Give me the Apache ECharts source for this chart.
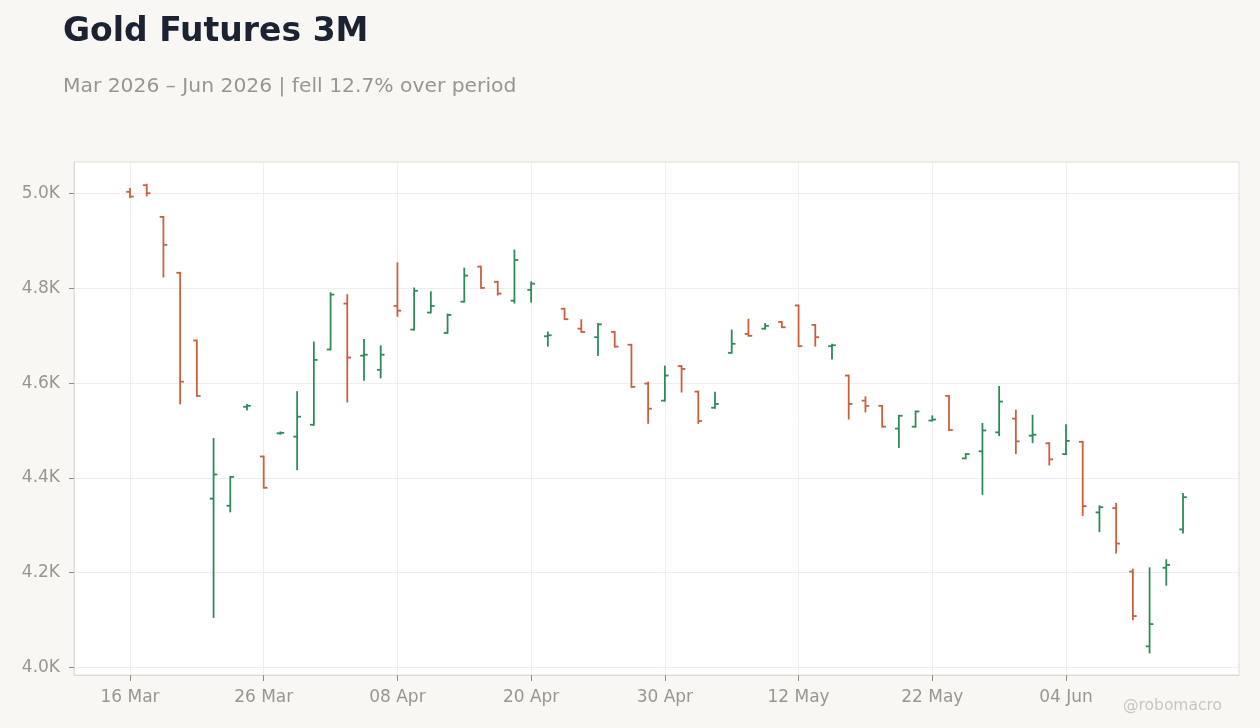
<!DOCTYPE html>
<html>
<head>
<meta charset="utf-8">
<title>Gold Futures 3M</title>
<script src="https://cdn.jsdelivr.net/npm/echarts@6/dist/echarts.min.js"></script>
<style>
  html, body { margin: 0; padding: 0; background: #f8f7f4; }
  #chart { width: 1260px; height: 728px; }
</style>
</head>
<body>
<div id="chart"></div>
<script>
// trading days, 16 Mar 2026 - 15 Jun 2026
var dates = ['16 Mar', '17 Mar', '18 Mar', '19 Mar', '20 Mar', '23 Mar', '24 Mar', '25 Mar', '26 Mar', '27 Mar',
    '30 Mar', '31 Mar', '01 Apr', '02 Apr', '06 Apr', '07 Apr', '08 Apr', '09 Apr', '10 Apr', '13 Apr',
    '14 Apr', '15 Apr', '16 Apr', '17 Apr', '20 Apr', '21 Apr', '22 Apr', '23 Apr', '24 Apr', '27 Apr',
    '28 Apr', '29 Apr', '30 Apr', '01 May', '04 May', '05 May', '06 May', '07 May', '08 May', '11 May',
    '12 May', '13 May', '14 May', '15 May', '18 May', '19 May', '20 May', '21 May', '22 May', '26 May',
    '27 May', '28 May', '29 May', '01 Jun', '02 Jun', '03 Jun', '04 Jun', '05 Jun', '08 Jun', '09 Jun',
    '10 Jun', '11 Jun', '12 Jun', '15 Jun'];

var opens = [5004, 5018, 4951, 4833, 4690, 4356, 4341, 4550, 4445, 4494,
    4487, 4512, 4671, 4768, 4658, 4628, 4763, 4713, 4749, 4706,
    4772, 4846, 4814, 4774, 4797, 4699, 4757, 4715, 4697, 4708,
    4681, 4599, 4563, 4636, 4582, 4548, 4664, 4704, 4715, 4729,
    4764, 4723, 4678, 4616, 4563, 4552, 4504, 4508, 4521, 4573,
    4441, 4456, 4496, 4525, 4489, 4473, 4450, 4476, 4327, 4336,
    4202, 4044, 4210, 4291];

var closes = [4994, 5001, 4892, 4603, 4573, 4407, 4402, 4552, 4379, 4495,
    4529, 4649, 4787, 4654, 4660, 4660, 4753, 4795, 4763, 4744,
    4827, 4801, 4789, 4860, 4810, 4701, 4735, 4708, 4724, 4677,
    4592, 4546, 4616, 4630, 4520, 4556, 4683, 4700, 4721, 4718,
    4678, 4697, 4680, 4556, 4552, 4508, 4531, 4540, 4523, 4501,
    4450, 4500, 4561, 4477, 4491, 4439, 4478, 4340, 4338, 4261,
    4108, 4091, 4216, 4359];

var lows = [4993, 4996, 4825, 4557, 4573, 4106, 4329, 4544, 4379, 4493,
    4418, 4512, 4671, 4561, 4607, 4612, 4742, 4713, 4749, 4706,
    4772, 4801, 4787, 4770, 4772, 4679, 4735, 4708, 4659, 4677,
    4592, 4516, 4563, 4582, 4516, 4548, 4664, 4700, 4715, 4718,
    4678, 4679, 4652, 4525, 4540, 4508, 4465, 4508, 4521, 4501,
    4441, 4366, 4490, 4452, 4475, 4428, 4450, 4321, 4287, 4242,
    4101, 4031, 4174, 4284];

var highs = [5010, 5019, 4951, 4833, 4690, 4482, 4402, 4554, 4445, 4496,
    4581, 4686, 4790, 4786, 4691, 4678, 4853, 4800, 4792, 4745,
    4842, 4846, 4814, 4880, 4813, 4707, 4757, 4733, 4725, 4708,
    4681, 4601, 4635, 4636, 4582, 4580, 4711, 4734, 4725, 4729,
    4764, 4723, 4681, 4616, 4570, 4552, 4531, 4540, 4530, 4573,
    4450, 4514, 4592, 4542, 4531, 4473, 4511, 4476, 4340, 4345,
    4206, 4209, 4226, 4366];

var xTicks = [0, 8, 16, 24, 32, 40, 48, 56];
var yTicks = [4000, 4200, 4400, 4600, 4800, 5000];

var UP = '#2e8b57';
var DOWN = '#c9603e';

var chart = echarts.init(document.getElementById('chart'));

var ohlc = [];
for (var i = 0; i < dates.length; i++) {
    ohlc.push([i, opens[i], closes[i], lows[i], highs[i]]);
}

// open tick left, close tick right, high-low stem
function renderOhlc(params, api) {
    var x = api.value(0);
    var o = api.coord([x, api.value(1)]);
    var c = api.coord([x, api.value(2)]);
    var l = api.coord([x, api.value(3)]);
    var h = api.coord([x, api.value(4)]);
    var color = api.value(2) >= api.value(1) ? UP : DOWN;
    var style = { stroke: color, lineWidth: 1.8 };
    var arm = 3.8;
    return {
        type: 'group',
        children: [
            { type: 'line', shape: { x1: h[0], y1: h[1] - 0.9, x2: l[0], y2: l[1] + 0.9 }, style: style },
            { type: 'line', shape: { x1: o[0] - arm, y1: o[1], x2: o[0], y2: o[1] }, style: style },
            { type: 'line', shape: { x1: c[0], y1: c[1], x2: c[0] + arm, y2: c[1] }, style: style }
        ]
    };
}

var labelColor = '#9a958f';

var option = {
    backgroundColor: '#f8f7f4',
    animation: false,
    title: [
        {
            text: 'Gold Futures 3M',
            left: 63,
            top: 16,
            padding: 0,
            textStyle: { fontFamily: 'DejaVu Sans', fontSize: 33, fontWeight: 'bold', color: '#1b2333' }
        },
        {
            text: 'Mar 2026 \u2013 Jun 2026 | fell 12.7% over period',
            left: 63,
            top: 77,
            padding: 0,
            textStyle: { fontFamily: 'DejaVu Sans', fontSize: 20.3, fontWeight: 'normal', color: '#9a958f' }
        }
    ],
    graphic: [
        {
            type: 'text',
            right: 38,
            bottom: 14,
            style: { text: '@robomacro', fontFamily: 'DejaVu Sans', fontSize: 15.5, fill: '#c9c6c1' }
        }
    ],
    grid: {
        left: 74,
        right: 21,
        top: 162,
        bottom: 53,
        show: true,
        backgroundColor: '#ffffff',
        borderColor: '#e0dcd6',
        borderWidth: 1
    },
    xAxis: {
        type: 'value',
        min: -3.35,
        max: 66.35,
        axisLine: { show: true, onZero: false, lineStyle: { color: '#ddd8d2' } },
        axisTick: { show: true, customValues: xTicks, length: 6, lineStyle: { color: '#8f8a84' } },
        axisLabel: {
            customValues: xTicks,
            margin: 14,
            fontFamily: 'DejaVu Sans',
            fontSize: 17,
            color: labelColor,
            formatter: function (v) { return dates[Math.round(v)]; }
        },
        splitLine: { show: true, lineStyle: { color: '#f0eeeb' } }
    },
    yAxis: {
        type: 'value',
        min: 3983.5,
        max: 5067,
        axisLine: { show: true, onZero: false, lineStyle: { color: '#e0dcd6' } },
        axisTick: { show: true, customValues: yTicks, length: 5, lineStyle: { color: '#8f8a84' } },
        axisLabel: {
            customValues: yTicks,
            margin: 14,
            fontFamily: 'DejaVu Sans',
            fontSize: 17,
            color: labelColor,
            formatter: function (v) { return (v / 1000).toFixed(1) + 'K'; }
        },
        splitLine: { show: true, lineStyle: { color: '#f0eeeb' } }
    },
    series: [
        {
            type: 'custom',
            name: 'Gold Futures 3M',
            renderItem: renderOhlc,
            encode: { x: 0, y: [1, 2, 3, 4] },
            data: ohlc
        }
    ]
};

chart.setOption(option);
</script>
</body>
</html>
